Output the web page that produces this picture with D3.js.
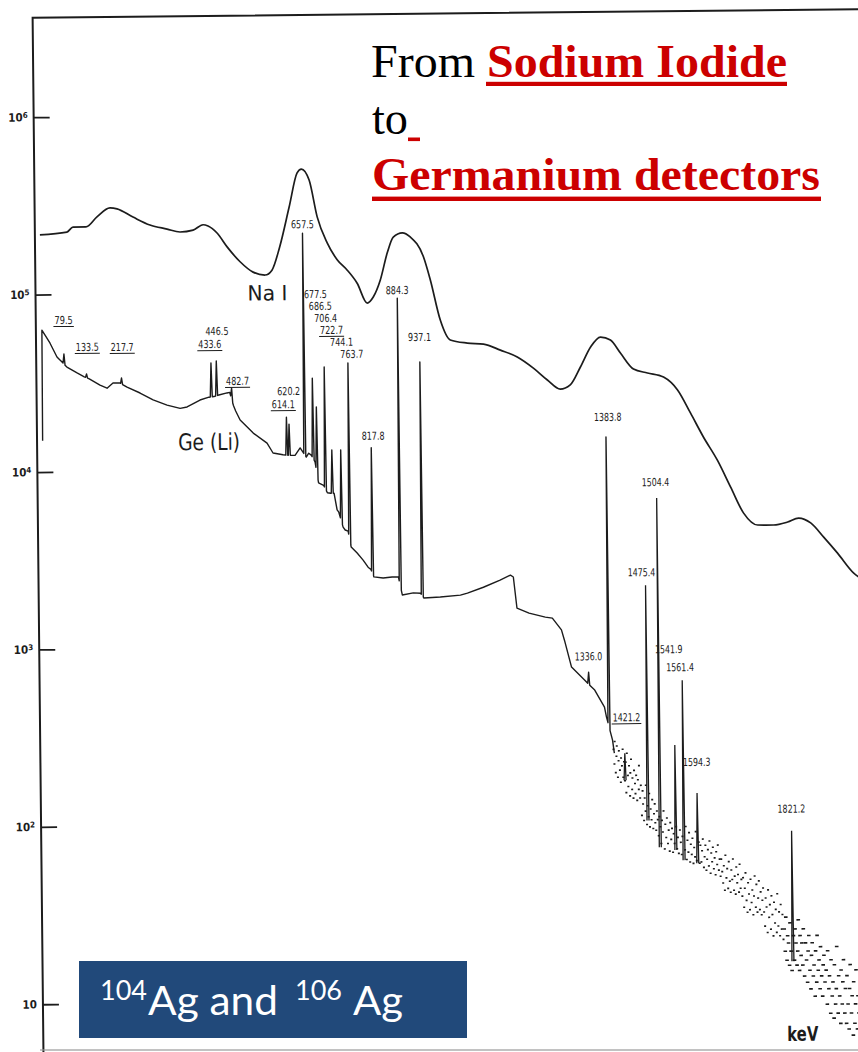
<!DOCTYPE html>
<html>
<head>
<meta charset="utf-8">
<script src="https://cdn.jsdelivr.net/npm/d3@7"></script>
<style>
  html, body { margin: 0; padding: 0; background: #fff; }
  svg { display: block; }
</style>
</head>
<body>
<svg id="chart" width="858" height="1052"></svg>
<script>
// ---------------- data ----------------
// NaI(Tl) spectrum: energy (keV) and counts per channel
const naEnergy = [24.6, 89.7, 104.5, 135.8, 162.6, 194.2, 211.1, 249.4, 290.2, 331.2, 362.6, 394, 418, 430, 451.6,
  475.5, 506.4, 537.5, 566.5, 583, 602, 626, 646, 656.5, 674.8, 693.3, 716.8, 740.4, 764, 788, 811.8, 826.5, 843.7,
  861.3, 876.2, 898, 917, 948.4, 964.3, 987.4, 1011, 1052, 1091, 1131.5, 1172, 1210.6, 1244, 1275, 1299, 1324, 1349,
  1373, 1397, 1420.7, 1451.8, 1485.4, 1524, 1557.5, 1588, 1618.6, 1652, 1683, 1713.6, 1747, 1785.7, 1819.5, 1846,
  1875, 1906, 1939, 1977.5, 2000];
const naCounts = [2.17e5, 2.24e5, 2.39e5, 2.39e5, 2.72e5, 3.05e5, 3.01e5, 2.70e5, 2.43e5, 2.30e5, 2.21e5, 2.26e5, 2.42e5,
  2.38e5, 2.17e5, 1.81e5, 1.49e5, 1.30e5, 1.25e5, 1.33e5, 1.79e5, 3.01e5, 4.68e5, 4.92e5, 4.26e5, 2.64e5, 1.88e5,
  1.51e5, 1.32e5, 1.11e5, 8.57e4, 9.26e4, 1.15e5, 1.64e5, 2.01e5, 2.12e5, 2.01e5, 1.55e5, 1.15e5, 6.81e4, 5.25e4,
  5.03e4, 4.95e4, 4.57e4, 4.17e4, 3.60e4, 3.08e4, 2.73e4, 2.88e4, 3.63e4, 4.70e4, 5.34e4, 5.13e4, 4.33e4, 3.51e4,
  3.33e4, 3.15e4, 2.66e4, 1.97e4, 1.44e4, 1.06e4, 7.48e3, 5.33e3, 4.56e3, 4.55e3, 4.72e3, 4.96e3, 4.65e3, 3.86e3,
  3.13e3, 2.41e3, 2.2e3];

// Ge(Li) continuum: energy (keV) and counts per channel
const geEnergy = [26, 27, 46, 62.7, 86.4, 110.7, 128, 140, 165.7, 182.6, 197, 213.9, 230.8, 262, 293.3, 326.8, 358.2,
  375, 406.3, 428, 440, 452, 471.5, 478, 487, 492, 502.5, 533.8, 566.8, 581, 605, 617, 625, 634, 646.4, 661, 667, 673,
  682, 690, 702, 711, 719, 727, 734, 738, 748, 753, 760, 767, 781.2, 795.4, 807.2, 814, 821, 843.2, 864.9, 880, 889,
  915.5, 933, 941, 980.5, 1029, 1046, 1084.6, 1125, 1150, 1157, 1165, 1194, 1233, 1250, 1271.6, 1278.6, 1295, 1326,
  1350.3, 1373.4, 1378, 1392, 1396];
const geCounts = [1.5e4, 6.3e4, 5.33e4, 4.44e4, 3.89e4, 3.60e4, 3.42e4, 3.33e4, 3.06e4, 2.94e4, 3.14e4, 3.14e4, 2.97e4,
  2.75e4, 2.51e4, 2.34e4, 2.24e4, 2.28e4, 2.49e4, 2.58e4, 2.60e4, 2.65e4, 2.72e4, 2.74e4, 2.30e4, 2.15e4, 1.91e4,
  1.61e4, 1.41e4, 1.24e4, 1.21e4, 1.20e4, 1.20e4, 1.20e4, 1.32e4, 1.17e4, 1.23e4, 1.20e4, 1.10e4, 8.35e3, 8.1e3,
  7.35e3, 7.3e3, 7.3e3, 5.87e3, 5.7e3, 4.69e3, 4.52e3, 4.45e3, 3.62e3, 3.35e3, 3.05e3, 2.78e3, 2.7e3, 2.45e3, 2.41e3,
  2.44e3, 2.44e3, 1.93e3, 1.98e3, 1.97e3, 1.85e3, 1.87e3, 1.91e3, 1.96e3, 2.11e3, 2.31e3, 2.46e3, 2.40e3, 1.60e3,
  1.50e3, 1.42e3, 1.40e3, 1.20e3, 1.05e3, 740, 624, 547, 438, 385, 285, 241];

// Ge(Li) photopeaks on the continuum: energy (keV) and peak counts
const peakEnergy = [79.5, 133.5, 217.7, 433.6, 446.5, 482.7, 614.1, 620.2, 657.5, 677.5, 686.5, 706.4, 722.7, 744.1,
  763.7, 817.8, 884.3, 937.1, 1336.0, 1383.8];
const peakCounts = [4.61e4, 3.55e4, 3.35e4, 4.02e4, 4.12e4, 2.9e4, 1.97e4, 1.80e4, 2.14e5, 3.26e4, 2.24e4, 3.76e4,
  1.28e4, 1.28e4, 3.95e4, 1.31e4, 9.10e4, 3.96e4, 690, 1.46e4];

// Ge(Li) photopeaks in the noisy high-energy tail: energy, peak counts, floor counts
const tailPeakEnergy = [1421.2, 1475.4, 1504.4, 1541.9, 1561.4, 1594.3, 1821.2];
const tailPeakCounts = [240, 2.12e3, 6.56e3, 265, 615, 142, 85.9];
const tailPeakFloor = [169, 100, 70.6, 67.9, 59.5, 57.1, 15.8];

// scattered channel contents of the high-energy tail: [energy, counts]
const tailDots = [
  [1394,253],[1396,209],[1397,280],[1399,187],[1401,231],[1402,264],[1404,176],[1406,218],[1407,248],[1409,193],
  [1411,165],[1412,226],[1414,204],[1416,253],[1417,176],[1419,215],
  [1421,168],[1423,214],[1424,144],[1426,240],[1428,180],[1429,156],[1431,204],[1433,138],[1434,186],[1436,222],
  [1438,150],[1439,174],[1441,134],[1443,192],[1445,162],[1446,142],[1448,180],[1450,130],[1452,170],[1454,150],
  [1455,204],[1457,134],[1459,158],
  [1461,107],[1463,147],[1464,124],[1466,100],[1468,134],[1470,113],[1471,158],[1473,95],[1475,121],[1477,105],
  [1479,142],[1480,92],[1482,116],[1484,101],[1486,131],[1488,90],[1490,109],[1492,124],[1493,97],[1495,88],
  [1497,113],[1499,101],
  [1501,82],[1503,105],[1505,92],[1507,74],[1509,100],[1511,86],[1513,113],[1515,69],[1517,95],[1519,80],
  [1521,103],[1523,74],[1525,88],[1527,67],[1529,97],[1531,78],[1533,90],[1535,66],[1537,84],[1539,74],
  [1543,92],[1545,69],[1547,80],[1549,65],
  [1552,88],[1554,75],[1556,64],[1558,81],[1564,68],[1566,92],[1568,60],[1570,77],[1572,66],[1574,85],
  [1576,58],[1578,73],[1580,64],[1582,79],[1584,57],[1586,70],[1588,62],[1590,86],[1592,59],[1597,75],[1599,57],
  [1601,72],[1603,58],[1605,67],[1607,78],[1609,54],[1611,62],[1613,72],[1615,52],[1617,60],[1619,68],
  [1621,55],[1623,76],[1625,50],[1627,65],[1629,58],[1631,70],[1633,53],[1635,61],[1637,49],[1639,66],
  [1641,56],[1643,72],[1645,52],[1647,60],[1649,48],
  [1651,60],[1653,51],[1655,44],[1657,55],[1659,40],[1661,63],[1663,47],[1665,53],[1667,41],[1669,58],
  [1671,45],[1673,39],[1675,52],[1677,46],[1679,60],[1681,40],[1683,48],[1685,38],[1687,54],[1689,44],
  [1691,49],[1693,39],[1695,56],[1697,41],[1699,46],
  [1701,37],[1703,47],[1705,32],[1707,41],[1709,50],[1711,35],[1713,30],[1715,44],[1717,38],[1719,31],
  [1721,46],[1723,34],[1725,40],[1727,29],[1729,37],[1731,48],[1733,32],[1735,43],[1737,30],[1739,36],
  [1741,45],[1743,31],[1745,39],[1747,29],[1749,35],
  [1751,41],[1753,30],[1755,25],[1757,36],[1759,32],[1761,23],[1763,40],[1765,28],[1767,33],[1769,24],
  [1771,37],[1773,29],[1775,22],[1777,34],[1779,26],[1781,31],[1783,23],[1785,38],[1787,25],[1789,30],
  [1791,22],[1793,33],[1795,24],[1797,29],[1799,21],
  [1801,24],[1803,18],[1805,28],[1807,16],[1809,22],[1811,20],[1813,15],[1815,26],[1817,18],[1819,14],
  [1823,22],[1825,16],[1827,24],[1829,20],[1831,15],[1833,18],[1835,27],[1837,14],[1839,22],[1841,17],
  [1843,20],[1845,15],[1847,24],[1849,13],
  [1852,20],[1854,16],[1856,12],[1858,18],[1860,22],[1862,14],[1864,11],[1866,17],[1868,20],[1870,13],
  [1872,15],[1874,10],[1876,18],[1878,12],[1880,22],[1882,14],[1884,16],[1886,11],[1888,19],[1890,13],
  [1892,10],[1894,15],[1896,17],[1898,12],
  [1901,14],[1903,9],[1905,18],[1907,11],[1909,13],[1911,8],[1913,16],[1915,10],[1917,12],[1919,7.5],
  [1921,15],[1923,9],[1925,11],[1927,19],[1929,8],[1931,13],[1933,10],[1935,7],[1937,14],[1939,9],
  [1941,12],[1943,16],[1945,8],[1947,11],[1949,7],
  [1951,13],[1953,9],[1955,6.5],[1957,11],[1959,15],[1961,8],[1963,10],[1965,6],[1967,12],[1969,7],
  [1971,9],[1973,14],[1975,6.5],[1977,10],[1979,8],[1981,5.5],[1983,12],[1985,7],[1987,9],[1989,6],
  [1991,11],[1993,8],[1995,5.5],[1997,10],[1999,7]];

const yTicks = [10, 1e2, 1e3, 1e4, 1e5, 1e6];

// label placement for each peak (offset from the peak tip, px) and underline flag
const peakLabelLayout = {
  "79.5": [0, -30, true], "133.5": [1, -23, true], "217.7": [1, -27, true], "433.6": [-1, -15, true],
  "446.5": [1, -26, false], "482.7": [6, -3, true], "614.1": [-3, -9, true], "620.2": [0, -29, false],
  "657.5": [0, -5, false], "677.5": [4, -80, false], "686.5": [5, -97, false], "706.4": [2, -45, false],
  "722.7": [1, -116, true], "744.1": [2, -104, false], "763.7": [4, -5, false], "817.8": [2, -8, false],
  "884.3": [0, -4, false], "937.1": [0, -21, false], "1336.0": [0, -12, false], "1383.8": [2, -16, false],
  "1421.2": [2, -32, true], "1475.4": [-4, -9, false], "1504.4": [-1, -12, false], "1541.9": [-5, -92, false],
  "1561.4": [-2, -9, false], "1594.3": [0, -27, false], "1821.2": [0, -18, false]
};

// ---------------- drawing ----------------
const svg = d3.select('#chart');
const ink = '#1c1c1c';

const x = d3.scaleLinear().domain([0, 2000]).range([32.8, 862.6]);
const y = d3.scaleLog().domain([10, 1e6]).range([1000.5, 113.4]);

// the plotted sheet sits slightly askew on the page
const plot = svg.append('g').attr('transform', 'rotate(-0.6 400 530)');

plot.append('clipPath').attr('id', 'plotClip')
  .append('rect').attr('x', 39).attr('y', 15).attr('width', 900).attr('height', 1100);

// frame: top border and left axis line
plot.append('path')
  .attr('d', d3.line()([[38, 1100], [38, 14], [900, 14]]))
  .attr('fill', 'none').attr('stroke', ink).attr('stroke-width', 2);

// y axis (log counts)
const axis = d3.axisLeft(y).tickValues(yTicks).tickSize(-16).tickSizeOuter(0).tickPadding(6);
plot.append('g').attr('transform', 'translate(38,0)')
  .call(axis)
  .call(g => g.select('.domain').remove())
  .call(g => g.selectAll('.tick line').attr('stroke', ink).attr('stroke-width', 1.8))
  .call(g => g.selectAll('.tick text')
    .attr('fill', ink)
    .attr('font-family', "'DejaVu Sans Condensed',sans-serif")
    .attr('font-size', 11.5).attr('font-weight', 'bold')
    .each(function (d) {
      const t = d3.select(this);
      const e = Math.round(Math.log10(d));
      t.text('10');
      if (e > 1) t.append('tspan').attr('dy', '-0.45em').attr('font-size', 8).text(e);
    }));

const curves = plot.append('g').attr('clip-path', 'url(#plotClip)');

// NaI spectrum
const naData = naEnergy.map((e, i) => [e, naCounts[i]]);
curves.append('path')
  .datum(naData)
  .attr('d', d3.line().x(d => x(d[0])).y(d => y(d[1])).curve(d3.curveMonotoneX))
  .attr('fill', 'none').attr('stroke', ink).attr('stroke-width', 1.7).attr('stroke-linejoin', 'round');

// Ge(Li) spectrum: continuum with narrow photopeaks
const cont = geEnergy.map((e, i) => [e, geCounts[i]]);
const bis = d3.bisector(d => d[0]).right;
function baseAt(e) {
  const i = bis(cont, e);
  const a = cont[Math.max(0, i - 1)], b = cont[Math.min(cont.length - 1, i)];
  if (a === b) return a[1];
  const t = (e - a[0]) / (b[0] - a[0]);
  return Math.exp(Math.log(a[1]) * (1 - t) + Math.log(b[1]) * t);
}
const halfWidth = 2.4; // keV
const gePts = cont.slice();
peakEnergy.forEach((e, i) => {
  gePts.push([e - halfWidth, baseAt(e - halfWidth)], [e, peakCounts[i]], [e + halfWidth, baseAt(e + halfWidth)]);
});
gePts.sort((a, b) => a[0] - b[0]);

curves.append('path')
  .datum(gePts)
  .attr('d', d3.line().x(d => x(d[0])).y(d => y(d[1])))
  .attr('fill', 'none').attr('stroke', ink).attr('stroke-width', 1.4).attr('stroke-linejoin', 'round');

// tail peaks
curves.selectAll('path.tailpeak')
  .data(tailPeakEnergy.map((e, i) => [e, tailPeakCounts[i], tailPeakFloor[i]]))
  .join('path').attr('class', 'tailpeak')
  .attr('d', d => d3.line()([[x(d[0] - halfWidth), y(d[2])], [x(d[0]), y(d[1])], [x(d[0] + halfWidth), y(d[2])]]))
  .attr('fill', 'none').attr('stroke', ink).attr('stroke-width', 1.3);

// scattered tail channels
curves.selectAll('rect.dot')
  .data(tailDots)
  .join('rect').attr('class', 'dot')
  .attr('x', d => x(d[0]) - (d[0] > 1800 ? 1.8 : 1))
  .attr('y', d => y(d[1]) - 0.8)
  .attr('width', d => d[0] > 1800 ? 3.6 : 2)
  .attr('height', 1.6)
  .attr('fill', ink);

// peak energy labels
const allPeaks = peakEnergy.map((e, i) => [e, peakCounts[i]])
  .concat(tailPeakEnergy.map((e, i) => [e, tailPeakCounts[i]]));
const labelFont = "'DejaVu Sans Condensed',sans-serif";
const labels = plot.append('g');
allPeaks.forEach(([e, c]) => {
  const key = e.toFixed(1);
  const lay = peakLabelLayout[key] || [0, -6, false];
  const lx = x(e) + lay[0], ly = y(c) + lay[1];
  const w = key.length * 4.6;
  labels.append('text')
    .attr('x', lx).attr('y', ly)
    .attr('text-anchor', 'middle')
    .attr('font-family', labelFont).attr('font-size', 11)
    .attr('textLength', w).attr('lengthAdjust', 'spacingAndGlyphs')
    .attr('fill', ink).text(key);
  if (lay[2]) {
    labels.append('line')
      .attr('x1', lx - w / 2 - 1).attr('x2', lx + w / 2 + 1)
      .attr('y1', ly + 2.5).attr('y2', ly + 2.5)
      .attr('stroke', ink).attr('stroke-width', 1);
  }
});

// detector names and unit
plot.append('text').attr('x', 250).attr('y', 299)
  .attr('font-family', "'DejaVu Sans',sans-serif").attr('font-size', 21)
  .attr('textLength', 40).attr('lengthAdjust', 'spacingAndGlyphs')
  .attr('fill', ink).text('Na I');
plot.append('text').attr('x', 179).attr('y', 448)
  .attr('font-family', "'DejaVu Sans',sans-serif").attr('font-size', 23)
  .attr('textLength', 62).attr('lengthAdjust', 'spacingAndGlyphs')
  .attr('fill', ink).text('Ge (Li)');
plot.append('text').attr('x', 782).attr('y', 1045)
  .attr('font-family', "'DejaVu Sans',sans-serif").attr('font-size', 20).attr('font-weight', 'bold')
  .attr('textLength', 31).attr('lengthAdjust', 'spacingAndGlyphs')
  .attr('fill', ink).text('keV');

// sheet edge at the bottom
svg.append('line').attr('x1', 40).attr('x2', 858).attr('y1', 1050).attr('y2', 1050)
  .attr('stroke', '#9a9a9a').attr('stroke-width', 2).attr('opacity', 0.6);

// ---------------- headline ----------------
const serif = "'Liberation Serif','Times New Roman',serif";
const red = '#cc0000';
svg.append('text').attr('x', 371).attr('y', 77)
  .attr('font-family', serif).attr('font-size', 46).attr('fill', '#000')
  .attr('textLength', 104).attr('lengthAdjust', 'spacingAndGlyphs').text('From');
svg.append('text').attr('x', 487).attr('y', 77)
  .attr('font-family', serif).attr('font-size', 46).attr('font-weight', 'bold').attr('fill', red)
  .attr('textLength', 300).attr('lengthAdjust', 'spacingAndGlyphs').text('Sodium Iodide');
svg.append('rect').attr('x', 486).attr('y', 81.8).attr('width', 301).attr('height', 4.2).attr('fill', red);
svg.append('text').attr('x', 372).attr('y', 134)
  .attr('font-family', serif).attr('font-size', 46).attr('fill', '#000')
  .attr('textLength', 36).attr('lengthAdjust', 'spacingAndGlyphs').text('to');
svg.append('rect').attr('x', 408).attr('y', 137.5).attr('width', 12).attr('height', 3.6).attr('fill', red);
svg.append('text').attr('x', 372).attr('y', 190)
  .attr('font-family', serif).attr('font-size', 46).attr('font-weight', 'bold').attr('fill', red)
  .attr('textLength', 448).attr('lengthAdjust', 'spacingAndGlyphs').text('Germanium detectors');
svg.append('rect').attr('x', 372).attr('y', 196.6).attr('width', 449).attr('height', 4.4).attr('fill', red);

// ---------------- isotope box ----------------
const sans = "Lato,'Open Sans',sans-serif";
svg.append('rect').attr('x', 79).attr('y', 961).attr('width', 388).attr('height', 77).attr('fill', '#21497a');
const boxText = [
  ['104', 100, 1000, 27, 47], ['Ag and', 148, 1015, 41, 130], ['106', 295, 1000, 27, 47], ['Ag', 353, 1015, 41, 50]
];
boxText.forEach(([s, bx, by, fs, tl]) => {
  svg.append('text').attr('x', bx).attr('y', by)
    .attr('font-family', sans).attr('font-size', fs).attr('fill', '#fff')
    .attr('textLength', tl).attr('lengthAdjust', 'spacingAndGlyphs').text(s);
});
</script>
</body>
</html>
